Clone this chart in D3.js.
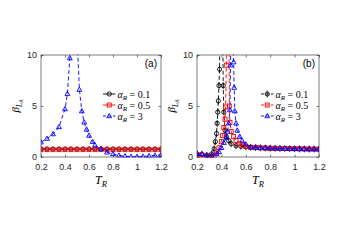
<!DOCTYPE html>
<html>
<head>
<meta charset="utf-8">
<script src="https://cdn.jsdelivr.net/npm/d3@7"></script>
<style>
  body { margin: 0; background: #fff; }
  svg { display: block; }
  .tick text { font-family: "Liberation Sans", Arial, sans-serif; font-size: 9px; fill: #262626; }
  .tick line { stroke: #262626; stroke-width: 0.6; }
</style>
</head>
<body>
<svg id="chart" width="356" height="244"></svg>
<script>
// tick labels
const xTicks = [0.2, 0.4, 0.6, 0.8, 1, 1.2];
const yTicks = [0, 5, 10];
const alphaLabels = ["0.1", "0.5", "3"];

// panel (a)
const aGridX = [0.2, 0.25, 0.3, 0.35, 0.4, 0.45, 0.5, 0.55, 0.6, 0.65, 0.7, 0.75, 0.8, 0.85, 0.9, 0.95, 1, 1.05, 1.1, 1.15, 1.2];
const aBlackY = [0.79, 0.79, 0.79, 0.79, 0.79, 0.79, 0.79, 0.79, 0.79, 0.79, 0.79, 0.79, 0.79, 0.79, 0.79, 0.79, 0.79, 0.79, 0.79, 0.79, 0.79];
const aRedY = [0.72, 0.72, 0.72, 0.72, 0.72, 0.72, 0.72, 0.72, 0.72, 0.72, 0.72, 0.72, 0.72, 0.72, 0.72, 0.72, 0.72, 0.72, 0.72, 0.72, 0.72];
const aBlueX = [0.2, 0.25, 0.3, 0.35, 0.4, 0.42, 0.44, 0.46, 0.5, 0.52, 0.54, 0.56, 0.58, 0.6, 0.63, 0.65, 0.7, 0.75, 0.8, 0.85, 0.9, 0.95, 1, 1.05, 1.1, 1.15, 1.2];
const aBlueY = [1.45, 1.8, 2.25, 2.95, 4.7, 6.2, 9.7, 14, 12, 6.6, 4.5, 3.4, 2.7, 2.1, 1.5, 1.15, 0.78, 0.46, 0.3, 0.15, 0.08, 0.03, 0.02, 0.05, 0.1, 0.15, 0.22];

// panel (b)
const bBlackX = [0.2, 0.24, 0.28, 0.3, 0.32, 0.34, 0.35, 0.36, 0.365, 0.37, 0.375, 0.38, 0.385, 0.4, 0.415, 0.42, 0.43, 0.44, 0.46, 0.48, 0.52, 0.56, 0.6, 0.64, 0.68, 0.72, 0.76, 0.8, 0.84, 0.88, 0.92, 0.96, 1, 1.04, 1.08, 1.12, 1.16, 1.2];
const bBlackY = [0.3, 0.25, 0.15, 0.05, 0.3, 0.8, 1.5, 2.3, 3.3, 4.4, 5.5, 7.0, 8.6, 30, 7.0, 4.4, 2.6, 2.0, 1.6, 1.3, 1.1, 1.05, 1.0, 0.95, 0.92, 0.9, 0.88, 0.86, 0.85, 0.84, 0.83, 0.82, 0.81, 0.8, 0.79, 0.78, 0.78, 0.77];
const bRedX = [0.2, 0.24, 0.28, 0.32, 0.34, 0.36, 0.38, 0.4, 0.41, 0.42, 0.43, 0.435, 0.44, 0.455, 0.465, 0.47, 0.48, 0.5, 0.52, 0.55, 0.58, 0.6, 0.64, 0.68, 0.72, 0.76, 0.8, 0.84, 0.88, 0.92, 0.96, 1, 1.04, 1.08, 1.12, 1.16, 1.2];
const bRedY = [0.25, 0.2, 0.1, 0.0, 0.1, 0.4, 0.9, 1.5, 2.1, 2.9, 3.7, 4.9, 9.0, 30, 5.0, 3.4, 2.5, 2.0, 1.6, 1.3, 1.15, 1.05, 0.95, 0.92, 0.9, 0.88, 0.86, 0.85, 0.84, 0.83, 0.82, 0.81, 0.8, 0.79, 0.78, 0.78, 0.77];
const bBlueX = [0.2, 0.24, 0.28, 0.32, 0.36, 0.38, 0.4, 0.42, 0.44, 0.45, 0.46, 0.47, 0.475, 0.49, 0.5, 0.505, 0.51, 0.52, 0.53, 0.55, 0.57, 0.6, 0.64, 0.68, 0.72, 0.76, 0.8, 0.84, 0.88, 0.92, 0.96, 1, 1.04, 1.08, 1.12, 1.16, 1.2];
const bBlueY = [0.3, 0.3, 0.2, 0.15, 0.3, 0.5, 0.9, 1.4, 1.9, 2.5, 3.3, 4.6, 9.0, 30, 9.3, 6.8, 4.5, 3.3, 2.6, 2.0, 1.6, 1.25, 0.97, 0.93, 0.9, 0.88, 0.86, 0.85, 0.84, 0.83, 0.82, 0.81, 0.8, 0.79, 0.78, 0.78, 0.77];

const svg = d3.select("#chart");
const axisColor = "#262626";
const serif = "'Liberation Serif', 'DejaVu Serif', serif";

const panels = [
  {
    id: "a", x0: 41, x1: 161, label: "(a)",
    series: [
      { xs: aGridX, ys: aBlackY, color: "#000", marker: "circle", dash: null },
      { xs: aGridX, ys: aRedY, color: "#f00", marker: "square", dash: null },
      { xs: aBlueX, ys: aBlueY, color: "#00f", marker: "triangle", dash: "4,2.5" },
    ],
    legendDash: [null, null, "3,2"],
  },
  {
    id: "b", x0: 197, x1: 319, label: "(b)",
    series: [
      { xs: bBlackX, ys: bBlackY, color: "#000", marker: "circle", dash: "4,2.5", err: true },
      { xs: bRedX, ys: bRedY, color: "#f00", marker: "square", dash: "4,2.5" },
      { xs: bBlueX, ys: bBlueY, color: "#00f", marker: "triangle", dash: "4,2.5" },
    ],
    legendDash: ["3,2", "3,2", "3,2"],
  },
];
const yTop = 55, yBot = 157;

const drawMarker = (g, kind, cx, cy, color) => {
  if (kind === "circle") {
    g.append("circle").attr("cx", cx).attr("cy", cy).attr("r", 2.1)
      .attr("fill", "none").attr("stroke", color).attr("stroke-width", 0.9);
  } else if (kind === "square") {
    g.append("rect").attr("x", cx - 2).attr("y", cy - 2).attr("width", 4).attr("height", 4)
      .attr("fill", "none").attr("stroke", color).attr("stroke-width", 0.9);
  } else {
    g.append("path")
      .attr("d", `M${cx},${cy - 2.6}L${cx + 2.4},${cy + 1.7}L${cx - 2.4},${cy + 1.7}Z`)
      .attr("fill", "none").attr("stroke", color).attr("stroke-width", 0.9);
  }
};

panels.forEach((p) => {
  const xScale = d3.scaleLinear().domain([0.2, 1.2]).range([p.x0, p.x1]);
  const yScale = d3.scaleLinear().domain([0, 10]).range([yBot, yTop]);
  const layer = svg.append("g");

  layer.append("clipPath").attr("id", `clip-${p.id}`)
    .append("rect").attr("x", p.x0).attr("y", yTop - 0.5)
    .attr("width", p.x1 - p.x0).attr("height", yBot - yTop + 1);

  // * axes with inward ticks
  const xAxis = layer.append("g").attr("transform", `translate(0,${yBot})`)
    .call(d3.axisBottom(xScale).tickValues(xTicks).tickSize(-2.5).tickPadding(6.5).tickFormat(d3.format("~g")));
  xAxis.select(".domain").remove();
  const xAxisTop = layer.append("g").attr("transform", `translate(0,${yTop})`)
    .call(d3.axisTop(xScale).tickValues(xTicks).tickSize(-2.5).tickFormat(""));
  xAxisTop.select(".domain").remove();
  const yAxis = layer.append("g").attr("transform", `translate(${p.x0},0)`)
    .call(d3.axisLeft(yScale).tickValues(yTicks).tickSize(-2.5).tickPadding(4));
  yAxis.select(".domain").remove();
  yAxis.selectAll(".tick text").attr("dy", "0.3em");
  const yAxisRight = layer.append("g").attr("transform", `translate(${p.x1},0)`)
    .call(d3.axisRight(yScale).tickValues(yTicks).tickSize(-2.5).tickFormat(""));
  yAxisRight.select(".domain").remove();

  layer.append("rect").attr("x", p.x0).attr("y", yTop)
    .attr("width", p.x1 - p.x0).attr("height", yBot - yTop)
    .attr("fill", "none").attr("stroke", axisColor).attr("stroke-width", 0.6);

  // * series
  const plot = layer.append("g").attr("clip-path", `url(#clip-${p.id})`);
  p.series.forEach((s) => {
    const pts = s.xs.map((x, i) => [x, s.ys[i]]);
    const line = d3.line().x((d) => xScale(d[0])).y((d) => yScale(d[1]));
    plot.append("path").attr("d", line(pts))
      .attr("fill", "none").attr("stroke", s.color).attr("stroke-width", 0.9)
      .attr("stroke-dasharray", s.dash);
    pts.forEach((d) => {
      const cx = xScale(d[0]), cy = yScale(d[1]);
      if (s.err) {
        plot.append("line").attr("x1", cx).attr("x2", cx).attr("y1", cy - 3.5).attr("y2", cy + 3.5)
          .attr("stroke", s.color).attr("stroke-width", 0.7);
      }
      drawMarker(plot, s.marker, cx, cy, s.color);
    });
  });

  // * panel tag
  layer.append("text").attr("x", p.x1 - 4).attr("y", 67).attr("text-anchor", "end")
    .attr("font-family", "'Liberation Sans', Arial, sans-serif").attr("font-size", 10)
    .attr("fill", "#000").text(p.label);

  // * x label
  const xl = layer.append("text").attr("x", (p.x0 + p.x1) / 2).attr("y", 184)
    .attr("text-anchor", "middle").attr("font-family", serif).attr("font-size", 12).attr("fill", "#000");
  xl.append("tspan").attr("font-style", "italic").text("T");
  xl.append("tspan").attr("font-style", "italic").attr("font-size", 8.5).attr("dy", 2.5).text("R");

  // * y label
  const yl = layer.append("text")
    .attr("transform", `translate(${p.x0 - 22},${(yTop + yBot) / 2}) rotate(-90)`)
    .attr("text-anchor", "middle").attr("font-family", serif).attr("font-size", 11).attr("fill", "#000");
  yl.append("tspan").attr("font-style", "italic").text("β");
  yl.append("tspan").attr("font-style", "italic").attr("font-size", 7.5).attr("dy", 2.5).text("L");
  yl.append("tspan").attr("font-style", "italic").attr("font-size", 5.5).attr("dy", 1.5).text("A");

  // * legend
  const lx = p.x1 - 58;
  p.series.forEach((s, i) => {
    const ly = 94 + i * 11;
    const lg = layer.append("g");
    lg.append("line").attr("x1", lx).attr("x2", lx + 12.5).attr("y1", ly).attr("y2", ly)
      .attr("stroke", s.color).attr("stroke-width", 0.9).attr("stroke-dasharray", p.legendDash[i]);
    if (s.err) {
      lg.append("line").attr("x1", lx + 6.25).attr("x2", lx + 6.25).attr("y1", ly - 3.5).attr("y2", ly + 3.5)
        .attr("stroke", s.color).attr("stroke-width", 0.7);
    }
    drawMarker(lg, s.marker, lx + 6.25, ly, s.color);
    const t = lg.append("text").attr("x", lx + 14.5).attr("y", ly + 3.5)
      .attr("font-family", serif).attr("font-size", 10).attr("fill", "#000");
    t.append("tspan").attr("font-style", "italic").text("α");
    t.append("tspan").attr("font-style", "italic").attr("font-size", 7).attr("dy", 2).text("R");
    t.append("tspan").attr("dy", -2).text(` = ${alphaLabels[i]}`);
  });
});
</script>
</body>
</html>
